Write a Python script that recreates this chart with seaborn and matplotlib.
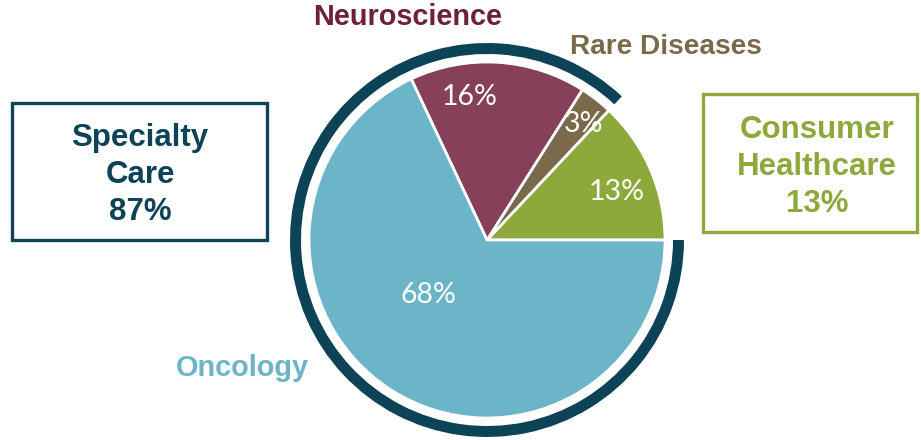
import matplotlib
matplotlib.use('Agg')
from matplotlib import pyplot as plt
from matplotlib.patches import Wedge, Rectangle
import seaborn as sns

# slices, counter-clockwise from 3 o'clock
segments = ['Consumer Healthcare', 'Rare Diseases', 'Neuroscience', 'Oncology']
shares = [13, 3, 16, 68]
slice_colors = ['#8DA83B', '#7A6A4B', '#86405A', '#6CB4C7']
name_colors = ['#8DA83B', '#7A6A4B', '#6E1F3C', '#6CB4C7']
specialty = ['Rare Diseases', 'Neuroscience', 'Oncology']
ARC = '#0D4356'

sns.set_theme(style='white')
plt.rcParams['font.family'] = ['Liberation Sans', 'DejaVu Sans']

W, H = 921, 440
fig = plt.figure(figsize=(W / 100, H / 100), dpi=100)
ax = fig.add_axes([0, 0, 1, 1])

cx, cy = 487, H - 240
ax.pie(shares, colors=slice_colors, startangle=0, counterclock=True,
       radius=178, center=(cx, cy),
       wedgeprops=dict(edgecolor='white', linewidth=2))

# outer arc around the specialty care slices
spec_total = sum(s for n, s in zip(segments, shares) if n in specialty)
start = 360 * (100 - spec_total) / 100
ax.add_patch(Wedge((cx, cy), 197, start, 360, width=11, color=ARC, lw=0))

# percentages inside slices
pct_pos = [(617, 192), (583, 124), (470, 97), (428, 295)]
for s, (x, y) in zip(shares, pct_pos):
    ax.text(x, H - y, f'{s}%', color='white', fontsize=20.5, ha='center',
            va='center', family=['Lato', 'DejaVu Sans'])

# segment names
ax.text(408, H - 17, 'Neuroscience', color=name_colors[2], fontsize=20.8,
        weight='bold', ha='center', va='center')
ax.text(666, H - 47, 'Rare Diseases', color=name_colors[1], fontsize=20.2,
        weight='bold', ha='center', va='center')
ax.text(242, H - 368, 'Oncology', color=name_colors[3], fontsize=20.8,
        weight='bold', ha='center', va='center')

# boxes
ax.add_patch(Rectangle((12, H - 240), 255, 137, fill=False, edgecolor=ARC, lw=2.4))
ax.text(140, H - 175, f'Specialty\nCare\n{spec_total}%', color=ARC, fontsize=22.5,
        weight='bold', ha='center', va='center', linespacing=1.3)

ax.add_patch(Rectangle((703, H - 232), 214, 138, fill=False,
                       edgecolor=slice_colors[0], lw=2.4))
ax.text(817, H - 167, f'Consumer\nHealthcare\n{shares[0]}%', color=slice_colors[0],
        fontsize=22.5, weight='bold', ha='center', va='center', linespacing=1.3)

ax.set_xlim(0, W)
ax.set_ylim(0, H)
ax.set_aspect('equal')
ax.axis('off')

fig.savefig('out.png', dpi=100)
